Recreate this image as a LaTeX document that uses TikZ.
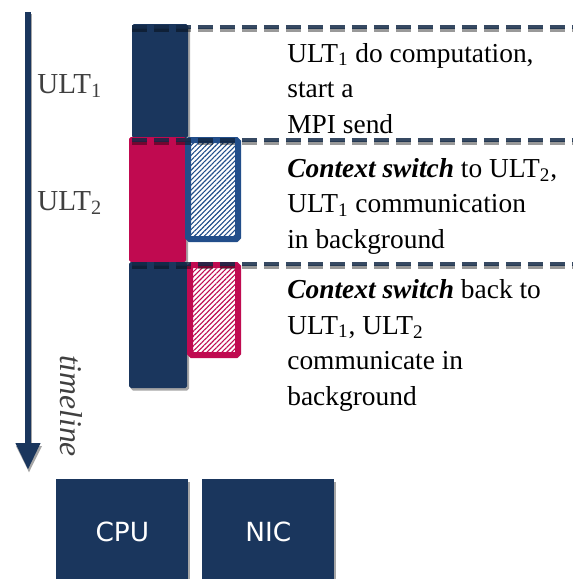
\documentclass[tikz,border=0pt]{standalone}
\usepackage{fontspec}
\setmainfont{Liberation Serif}
\newfontfamily\unitfont{DejaVu Sans}
\usetikzlibrary{arrows.meta,patterns.meta,shadows}
\definecolor{ultblue}{RGB}{26,54,93}
\definecolor{ultpink}{RGB}{192,10,80}
\definecolor{commblue}{RGB}{34,78,138}
\definecolor{labelgray}{RGB}{64,64,64}
\tikzset{
  barshadow/.style={drop shadow={shadow xshift=0.04cm,shadow yshift=-0.05cm,fill=gray!70,opacity=1}},
  bar/.style={rounded corners=1pt,barshadow},
  commbox/.style={line width=0.12cm,rounded corners=1pt,barshadow,preaction={fill=white},
    pattern={Lines[angle=45,distance=0.07cm,line width=0.022cm]}},
  marker/.style={line width=0.08cm,dash pattern=on 0.3cm off 0.14cm},
  steptext/.style={anchor=base west,align=left,inner sep=0pt,font=\fontsize{15.6}{20.2}\selectfont},
  ultlabel/.style={anchor=base west,inner sep=0pt,text=labelgray,font=\fontsize{16.5}{18}\selectfont},
  unit/.style={fill=ultblue,text=white,anchor=north west,minimum width=2.64cm,minimum height=2.12cm,
    font=\unitfont\fontsize{15}{18}\selectfont,barshadow}
}
\begin{document}
\begin{tikzpicture}[x=0.02cm,y=-0.02cm]
\useasboundingbox (0,0) rectangle (573,579);
% time axis
\draw[gray!70,line width=0.14cm,-{Triangle[width=0.48cm,length=0.54cm]}] (29,14) -- (29,473);
\draw[ultblue,line width=0.14cm,-{Triangle[width=0.46cm,length=0.54cm]}] (28,12) -- (28,470);
\node[rotate=-90,text=labelgray,font=\itshape\fontsize{18}{20}\selectfont] (timeline) at (71,406) {timeline};
\node[ultlabel] (ult1) at (37,93) {ULT\textsubscript{1}};
\node[ultlabel] (ult2) at (37,210) {ULT\textsubscript{2}};

% CPU and NIC activity
\fill[ultblue,bar] (132,24) rectangle (188,138);
\fill[ultpink,bar] (129,137) rectangle (186,262);
\draw[commblue,commbox,pattern color=commblue] (188,140) rectangle (238,239);
\fill[ultblue,bar] (129,262) rectangle (187,388);
\draw[ultpink,commbox,pattern color=ultpink] (190,265) rectangle (238,355);

% phase markers
\foreach \y in {27,140,264} {
  \draw[black,marker,opacity=.4] (132,\y+2.5) -- (578,\y+2.5);
  \draw[ultblue!75!black,marker,opacity=.85] (132,\y) -- (578,\y);
}

\node[steptext] (step1) at (287,133) {ULT\textsubscript{1} do computation,\\start a\\MPI send};
\node[steptext] (step2) at (287,248) {\textbf{\textit{Context switch}} to ULT\textsubscript{2},\\ULT\textsubscript{1} communication\\in background};
\node[steptext] (step3) at (287,405) {\textbf{\textit{Context switch}} back to\\ULT\textsubscript{1}, ULT\textsubscript{2}\\communicate in\\background};

% hardware
\node[unit] (cpu) at (56,479) {CPU};
\node[unit] (nic) at (202,479) {NIC};
\end{tikzpicture}
\end{document}
